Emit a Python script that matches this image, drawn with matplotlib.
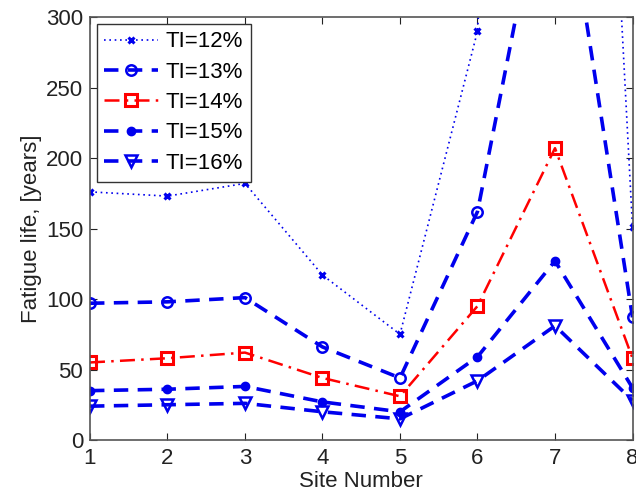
import matplotlib.pyplot as plt

plt.rcParams['font.family'] = ['Liberation Sans', 'DejaVu Sans']

sites = [1, 2, 3, 4, 5, 6, 7, 8]
ti_labels = ['TI=12%', 'TI=13%', 'TI=14%', 'TI=15%', 'TI=16%']
life_ti12 = [176, 173, 182, 117, 75, 290, 1200, 151]
life_ti13 = [97, 98, 101, 66, 44, 162, 440, 87]
life_ti14 = [55, 58, 62, 44, 31, 95, 207, 58]
life_ti15 = [35, 36, 38, 27, 20, 59, 127, 37]
life_ti16 = [24, 25, 26, 20, 15, 42, 81, 28]

BLUE = '#0000ee'
RED = '#ff0000'
TXT = '#222222'

fig = plt.figure(figsize=(6.36, 4.97), dpi=100)
ax = fig.add_axes([0.1415, 0.1147, 0.853, 0.851])

ax.plot(sites, life_ti12, color=BLUE, lw=1.2, ls=(0, (1, 2.2)),
        marker='x', ms=5, mew=2.2, label=ti_labels[0])
ax.plot(sites, life_ti13, color=BLUE, lw=2.6, ls=(0, (4, 2.6)),
        marker='o', ms=7.5, mew=1.8, mfc='none', label=ti_labels[1])
ax.plot(sites, life_ti14, color=RED, lw=1.8, ls=(0, (6, 2.5, 1, 2.5)),
        marker='s', ms=8, mew=2.2, mfc='none', label=ti_labels[2])
ax.plot(sites, life_ti15, color=BLUE, lw=2.6, ls=(0, (4, 2.6)),
        marker='o', ms=6, mew=1, label=ti_labels[3])
ax.plot(sites, life_ti16, color=BLUE, lw=2.6, ls=(0, (4, 2.6)),
        marker='v', ms=8, mew=1.8, mfc='none', label=ti_labels[4])

ax.set_xlim(1, 8)
ax.set_ylim(0, 300)
ax.set_xticks(sites)
ax.set_yticks([0, 50, 100, 150, 200, 250, 300])
ax.tick_params(direction='in', length=5, labelsize=16, colors=TXT,
               top=True, right=True)
ax.tick_params(axis='x', pad=6)
ax.tick_params(axis='y', pad=5)
for sp in ax.spines.values():
    sp.set_color('#555555')
    sp.set_linewidth(1.2)

ax.set_xlabel('Site Number', fontsize=16, color=TXT, labelpad=1)
ax.set_ylabel('Fatigue life, [years]', fontsize=16, color=TXT, labelpad=3)

leg = ax.legend(loc='upper left', fontsize=16, handlelength=2.4,
                borderaxespad=0.3, fancybox=False, framealpha=1,
                labelspacing=0.42, handletextpad=0.35, borderpad=0.35)
leg.get_frame().set_edgecolor('#333333')
leg.get_frame().set_linewidth(1)

fig.savefig('out.png', dpi=100)
